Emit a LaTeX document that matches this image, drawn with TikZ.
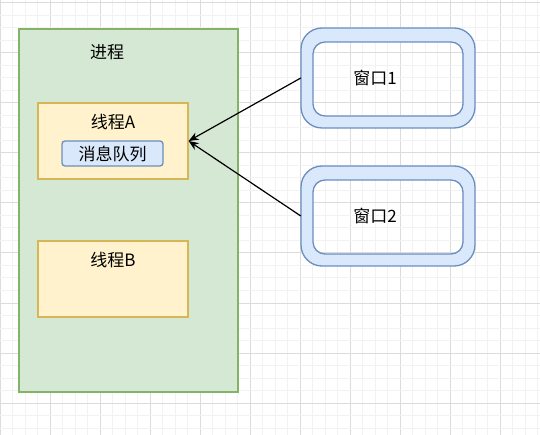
\documentclass[tikz,border=0pt]{standalone}
\usepackage{fontspec}
\setmainfont{Noto Sans CJK SC}
\usetikzlibrary{arrows.meta}
\definecolor{gminor}{HTML}{F2F2F2}
\definecolor{gmajor}{HTML}{DCDCDC}
\definecolor{pfill}{HTML}{D5E8D4}
\definecolor{pline}{HTML}{82B366}
\definecolor{tfill}{HTML}{FFF2CC}
\definecolor{tline}{HTML}{D6B656}
\definecolor{bfill}{HTML}{DAE8FC}
\definecolor{bline}{HTML}{6C8EBF}
\tikzset{
  lbl/.style={font=\fontsize{17pt}{19pt}\selectfont, inner sep=0pt},
  procbox/.style={draw=pline, fill=pfill, line width=1.3pt, inner sep=0pt},
  threadbox/.style={draw=tline, fill=tfill, line width=1.3pt, inner sep=0pt},
  queuebox/.style={draw=bline, fill=bfill, line width=1.3pt, rounded corners=3pt, inner sep=0pt},
  winframe/.style={draw=bline, fill=bfill, line width=1.3pt, even odd rule},
  winnode/.style={inner sep=0pt, minimum width=174pt, minimum height=100pt},
  arr/.style={-{Stealth[length=10pt,width=8pt]}, line width=1.2pt, black}
}
\begin{document}
\begin{tikzpicture}[x=1pt,y=-1pt]
\useasboundingbox (0,0) rectangle (540,435);
\fill[white] (0,0) rectangle (540,435);
% grid
\foreach \i in {0,...,43}{
  \pgfmathtruncatemacro{\m}{mod(\i,4)}
  \ifnum\m=0
    \draw[gmajor, line width=1pt] (\i*12.5,0) -- (\i*12.5,435);
  \else
    \draw[gminor, line width=1pt] (\i*12.5,0) -- (\i*12.5,435);
  \fi
}
\foreach \i in {0,...,35}{
  \pgfmathtruncatemacro{\m}{mod(\i,4)}
  \ifnum\m=0
    \draw[gmajor, line width=1pt] (0,3+\i*12.5) -- (540,3+\i*12.5);
  \else
    \draw[gminor, line width=1pt] (0,3+\i*12.5) -- (540,3+\i*12.5);
  \fi
}
% process
\node[procbox, minimum width=219pt, minimum height=363pt] (proc) at (128.5,210.5) {};
\node[lbl] (proctxt) at (107,52) {进程};
% thread A
\node[threadbox, minimum width=150pt, minimum height=76pt] (ta) at (113,141) {};
\node[lbl] (tatxt) at (113,122) {线程A};
\node[queuebox, minimum width=101pt, minimum height=25pt] (q) at (112.5,153.5) {};
\node[lbl] (qtxt) at (112.5,154) {消息队列};
% thread B
\node[threadbox, minimum width=150pt, minimum height=76pt] (tb) at (113,279) {};
\node[lbl] (tbtxt) at (113,260) {线程B};
% windows
\draw[winframe] (301,28) [rounded corners=21pt] rectangle (475,128)
  (313,42) [rounded corners=12pt] rectangle (463,116);
\node[winnode] (w1) at (388,78) {};
\node[lbl] (w1txt) at (375,78) {窗口1};
\draw[winframe] (301,166) [rounded corners=21pt] rectangle (475,266)
  (313,180) [rounded corners=12pt] rectangle (463,254);
\node[winnode] (w2) at (388,216) {};
\node[lbl] (w2txt) at (375,216) {窗口2};
% arrows
\draw[arr] (w1.west) -- (ta.east);
\draw[arr] (w2.west) -- (ta.east);
\end{tikzpicture}
\end{document}
